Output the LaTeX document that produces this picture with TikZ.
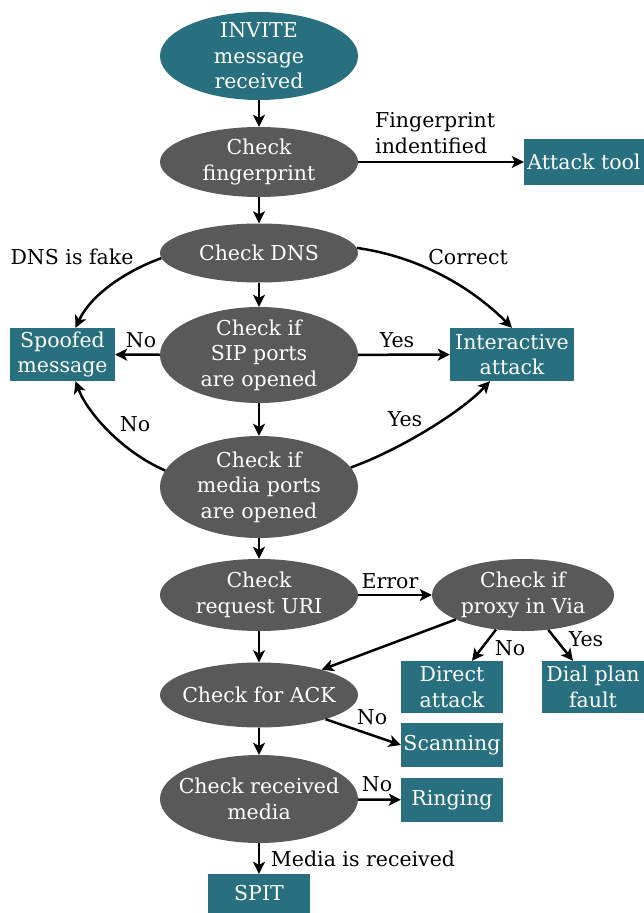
\documentclass[tikz,border=0pt]{standalone}
\usepackage{fontspec}
\setmainfont{DejaVu Serif}
\usetikzlibrary{shapes.geometric,arrows.meta}
\definecolor{teal}{HTML}{28707F}
\definecolor{dgray}{HTML}{595959}
\begin{document}
\begin{tikzpicture}[x=1pt,y=-1pt,
  every node/.style={font=\fontsize{20.5}{25.5}\selectfont},
  ell/.style={ellipse, fill=dgray, text=white, align=center, inner xsep=-20pt, inner ysep=-14pt, minimum width=198pt},
  tbox/.style={rectangle, fill=teal, text=white, align=center, inner sep=0pt},
  lbl/.style={text=black, inner sep=0pt},
  arr/.style={draw=black, line width=2.5pt, -{Stealth[length=12pt,width=12pt,inset=3pt]}}]
\useasboundingbox (0,0) rectangle (644,913);
% ellipses
\node[ell, fill=teal, minimum height=88pt] (inv) at (259,56) {INVITE\\message\\received};
\node[ell, minimum height=70pt] (fp) at (259,162) {Check\\fingerprint};
\node[ell, minimum height=59pt] (dns) at (259,253) {Check DNS};
\node[ell, minimum height=96pt] (sip) at (259,355) {Check if\\SIP ports\\are opened};
\node[ell, minimum height=102pt] (med) at (259,487) {Check if\\media ports\\are opened};
\node[ell, minimum height=72pt] (uri) at (259,595) {Check\\request URI};
\node[ell, minimum width=182pt, minimum height=72pt] (prx) at (523,595) {Check if\\proxy in Via};
\node[ell, minimum height=65pt] (ack) at (259,695) {Check for ACK};
\node[ell, minimum height=88pt] (rcv) at (259,799) {Check received\\media};
% boxes
\node[tbox, minimum width=120pt, minimum height=46pt] (atk) at (584,162) {Attack tool};
\node[tbox, minimum width=105pt, minimum height=53pt] (spf) at (62.5,354.5) {Spoofed\\message};
\node[tbox, minimum width=124pt, minimum height=53pt] (int) at (512,354.5) {Interactive\\attack};
\node[tbox, minimum width=102pt, minimum height=52pt] (dir) at (452,687) {Direct\\attack};
\node[tbox, minimum width=102pt, minimum height=52pt] (dial) at (593,687) {Dial plan\\fault};
\node[tbox, minimum width=102pt, minimum height=44pt] (scan) at (452,745) {Scanning};
\node[tbox, minimum width=102pt, minimum height=44pt] (ring) at (452,800) {Ringing};
\node[tbox, minimum width=102pt, minimum height=39pt] (spit) at (259,893.5) {SPIT};
% connectors
\draw[arr] (inv) -- (fp);
\draw[arr] (fp) -- (atk);
\draw[arr] (fp) -- (dns);
\draw[arr] (dns) -- (sip);
\draw[arr] (dns.183) .. controls +(-38,14) and +(15,-32) .. ([xshift=13pt]spf.north);
\draw[arr] (dns.3) .. controls +(70,10) and +(-35,-35) .. (int.north);
\draw[arr] (sip) -- (spf);
\draw[arr] (sip) -- (int);
\draw[arr] (sip) -- (med);
\draw[arr] (med.170) .. controls +(-42,-18) and +(12,32) .. ([xshift=13pt]spf.south);
\draw[arr] (med.12) .. controls +(50,-18) and +(-28,30) .. ([xshift=-22pt]int.south);
\draw[arr] (med) -- (uri);
\draw[arr] (uri) -- (prx);
\draw[arr] (uri) -- (ack);
\draw[arr] (prx.200) -- (ack.22);
\draw[arr] (prx.232) -- ([xshift=20pt]dir.north);
\draw[arr] (prx.306) -- ([xshift=-20pt]dial.north);
\draw[arr] (ack.340) -- (scan.west);
\draw[arr] (ack) -- (rcv);
\draw[arr] (rcv) -- (ring);
\draw[arr] (rcv) -- (spit);
% labels
\node[lbl, anchor=west, align=left] (lfp) at (375,133) {Fingerprint\\indentified};
\node[lbl] (lfake) at (72,257) {DNS is fake};
\node[lbl] (lcor) at (468,257) {Correct};
\node[lbl] (lno1) at (141,340) {No};
\node[lbl] (lyes1) at (397,340) {Yes};
\node[lbl] (lno2) at (135,424) {No};
\node[lbl] (lyes2) at (405,419) {Yes};
\node[lbl] (lerr) at (390,581) {Error};
\node[lbl] (lno3) at (510,648) {No};
\node[lbl] (lyes3) at (586,639) {Yes};
\node[lbl] (lno4) at (372,717) {No};
\node[lbl] (lno5) at (377,784) {No};
\node[lbl] (lmed) at (363,859) {Media is received};
\end{tikzpicture}
\end{document}
